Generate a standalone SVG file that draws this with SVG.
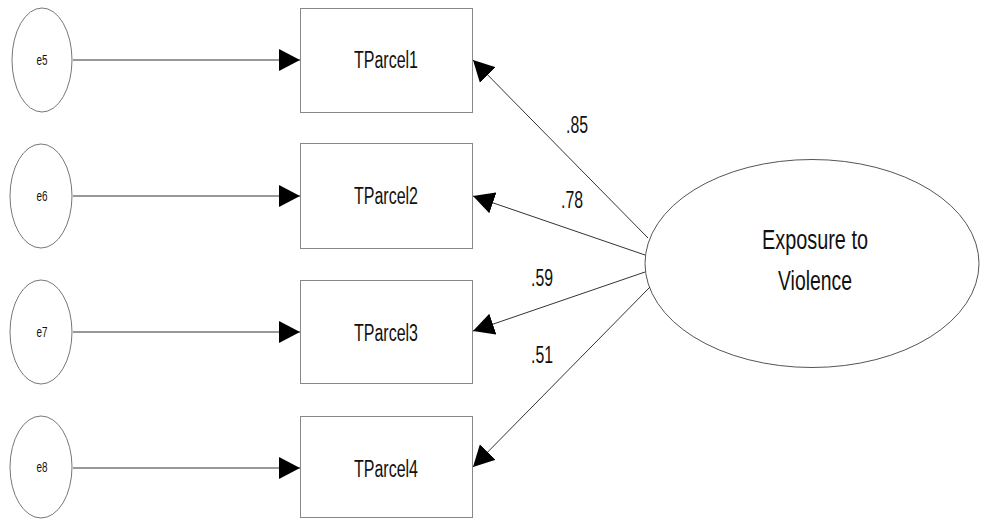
<svg xmlns="http://www.w3.org/2000/svg" width="981" height="519" viewBox="0 0 981 519">
<style>
.bg{fill:#fff}
.err{fill:none;stroke:#777;stroke-width:1}
.box{fill:none;stroke:#888;stroke-width:1}
.lat{fill:none;stroke:#555;stroke-width:1}
.conn line{stroke:#333;stroke-width:1}
.t{font-family:"Liberation Sans",Arial,sans-serif;fill:#111;text-anchor:middle}
.es{font-size:15px}
.bx{font-size:23px}
.nm{font-size:23px}
.lt{font-size:27px}
</style>
<defs>
<marker id="ah" markerUnits="userSpaceOnUse" markerWidth="22" markerHeight="22" viewBox="0 0 22 22" refX="21" refY="11" orient="auto">
<path d="M0,0 L21,11 L0,22 Z" fill="#000"/>
</marker>
</defs>
<rect class="bg" x="0" y="0" width="981" height="519"/>
<g id="e5"><ellipse class="err" cx="42" cy="60" rx="30" ry="52"/><text class="t es" x="42" y="65" textLength="11" lengthAdjust="spacingAndGlyphs">e5</text></g>
<g id="e6"><ellipse class="err" cx="41" cy="196" rx="31" ry="52"/><text class="t es" x="42" y="201" textLength="11" lengthAdjust="spacingAndGlyphs">e6</text></g>
<g id="e7"><ellipse class="err" cx="41" cy="332" rx="31" ry="52"/><text class="t es" x="42" y="337" textLength="11" lengthAdjust="spacingAndGlyphs">e7</text></g>
<g id="e8"><ellipse class="err" cx="41" cy="467" rx="31" ry="51"/><text class="t es" x="42" y="472" textLength="11" lengthAdjust="spacingAndGlyphs">e8</text></g>
<g id="TParcel1"><rect class="box" x="300.5" y="8.5" width="172" height="104"/><text class="t bx" x="386" y="68" textLength="64" lengthAdjust="spacingAndGlyphs">TParcel1</text></g>
<g id="TParcel2"><rect class="box" x="300.5" y="143.5" width="172" height="105"/><text class="t bx" x="386" y="204" textLength="64" lengthAdjust="spacingAndGlyphs">TParcel2</text></g>
<g id="TParcel3"><rect class="box" x="300.5" y="280.5" width="172" height="103"/><text class="t bx" x="386" y="341" textLength="64" lengthAdjust="spacingAndGlyphs">TParcel3</text></g>
<g id="TParcel4"><rect class="box" x="300.5" y="416.5" width="172" height="101"/><text class="t bx" x="386" y="477" textLength="64" lengthAdjust="spacingAndGlyphs">TParcel4</text></g>
<g id="ExposureToViolence"><ellipse class="lat" cx="812" cy="263.5" rx="167" ry="104"/>
<text class="t lt" x="815" y="249" textLength="106" lengthAdjust="spacingAndGlyphs">Exposure to</text>
<text class="t lt" x="815" y="290" textLength="74" lengthAdjust="spacingAndGlyphs">Violence</text></g>
<g id="connectors" class="conn">
<line x1="73" y1="60" x2="300" y2="60" marker-end="url(#ah)"/>
<line x1="73" y1="196" x2="300" y2="196" marker-end="url(#ah)"/>
<line x1="73" y1="332" x2="300" y2="332" marker-end="url(#ah)"/>
<line x1="73" y1="468" x2="300" y2="468" marker-end="url(#ah)"/>
<line x1="648" y1="238" x2="473" y2="60" marker-end="url(#ah)"/>
<line x1="645" y1="255" x2="473" y2="196" marker-end="url(#ah)"/>
<line x1="645" y1="272" x2="473" y2="331" marker-end="url(#ah)"/>
<line x1="650" y1="287" x2="473" y2="467" marker-end="url(#ah)"/>
</g>
<g id="labels">
<text class="t nm" x="577" y="133" textLength="22" lengthAdjust="spacingAndGlyphs">.85</text>
<text class="t nm" x="572" y="208" textLength="22" lengthAdjust="spacingAndGlyphs">.78</text>
<text class="t nm" x="542" y="286" textLength="22" lengthAdjust="spacingAndGlyphs">.59</text>
<text class="t nm" x="542" y="363" textLength="22" lengthAdjust="spacingAndGlyphs">.51</text>
</g>
</svg>
